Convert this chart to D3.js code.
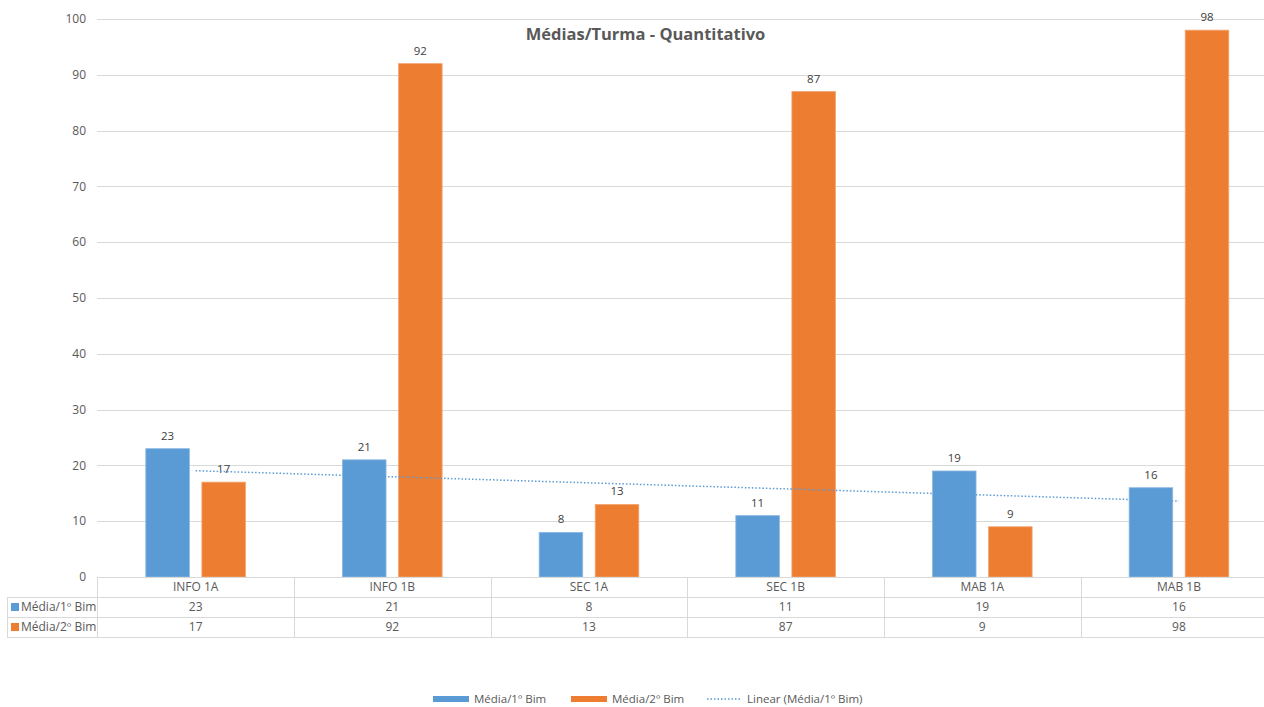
<!DOCTYPE html>
<html><head><meta charset="utf-8">
<script src="https://cdn.jsdelivr.net/npm/d3@7"></script>
<style>
html,body{margin:0;padding:0;background:#fff;}
svg{display:block;font-family:Carlito,"Open Sans","Liberation Sans",sans-serif;}
</style></head>
<body><svg id="c" width="1264" height="707"></svg>
<script>
const categories = ["INFO 1A","INFO 1B","SEC 1A","SEC 1B","MAB 1A","MAB 1B"];
const seriesNames = ["Média/1º Bim","Média/2º Bim"];
const bim1 = [23,21,8,11,19,16];
const bim2 = [17,92,13,87,9,98];
const yTicks = [0,10,20,30,40,50,60,70,80,90,100];
const colors = ["#5B9BD5","#ED7D31"];
const title = "Médias/Turma - Quantitativo";
const trendLabel = "Linear (Média/1º Bim)";

const series = [bim1, bim2];
const svg = d3.select("#c");
const font = "'Open Sans','Liberation Sans',sans-serif";
const txt = "#595959";

const x = d3.scaleBand().domain(categories).range([97.3, 1277.3]).padding(0);
const x1 = d3.scaleBand().domain(seriesNames).range([0, x.bandwidth()]).paddingInner(0.223).paddingOuter(0.865);
const y = d3.scaleLinear().domain([0,100]).range([577, 19]);

// gridlines
svg.append("g").selectAll("line").data(yTicks).join("line")
  .attr("x1", 97).attr("x2", 1264)
  .attr("y1", d=>Math.round(y(d))+0.5).attr("y2", d=>Math.round(y(d))+0.5)
  .attr("stroke", "#D9D9D9").attr("stroke-width", 1);

// y tick labels
svg.append("g").selectAll("text").data(yTicks).join("text")
  .attr("x", 86).attr("y", d=>y(d)).attr("dy","0.35em")
  .attr("text-anchor","end").attr("font-size", 12).attr("fill", txt)
  .style("font-family", font).text(d=>d);

// bars
seriesNames.forEach((s,si)=>{
  const g = svg.append("g");
  g.selectAll("rect").data(series[si]).join("rect")
    .attr("x", (d,i)=>x(categories[i]) + x1(s))
    .attr("width", x1.bandwidth())
    .attr("y", d=>y(d)).attr("height", d=>y(0)-y(d))
    .attr("fill", colors[si]).attr("stroke", si===0?"#8DB9E2":"#F3A672").attr("stroke-width", 0.8);
  g.selectAll("text").data(series[si]).join("text")
    .attr("x", (d,i)=>x(categories[i]) + x1(s) + x1.bandwidth()/2)
    .attr("y", d=>y(d)-9).attr("text-anchor","middle")
    .attr("font-size", 11.5).attr("fill", "#404040").style("font-family", font).text(d=>d);
});

// trendline (linear regression on series 1)
const n = bim1.length;
const xs = bim1.map((d,i)=>i+1);
const mx = d3.mean(xs), my = d3.mean(bim1);
const slope = d3.sum(xs.map((xi,i)=>(xi-mx)*(bim1[i]-my))) / d3.sum(xs.map(xi=>(xi-mx)**2));
const icpt = my - slope*mx;
const cx = i => x(categories[i]) + x.bandwidth()/2;
svg.append("line")
  .attr("x1", cx(0)).attr("y1", y(icpt + slope*1))
  .attr("x2", cx(n-1)).attr("y2", y(icpt + slope*n))
  .attr("stroke", colors[0]).attr("stroke-width", 1.5).attr("stroke-dasharray","1.5,2");

// title
svg.append("text").attr("x", 645.5).attr("y", 40).attr("text-anchor","middle")
  .attr("font-size", 16.5).attr("font-weight","bold").attr("fill", txt)
  .style("font-family", font).text(title);

// data table
const tg = svg.append("g");
const lc = "#D9D9D9";
tg.append("line").attr("x1",97).attr("x2",1264).attr("y1",577.5).attr("y2",577.5).attr("stroke",lc);
[597,617,637].forEach(yy=>tg.append("line").attr("x1",7).attr("x2",1264).attr("y1",yy+0.5).attr("y2",yy+0.5).attr("stroke",lc));
tg.append("line").attr("x1",7.5).attr("x2",7.5).attr("y1",597).attr("y2",637).attr("stroke",lc);
categories.forEach(c=>{
  const xx = Math.round(x(c))+0.5;
  tg.append("line").attr("x1",xx).attr("x2",xx).attr("y1",577).attr("y2",637).attr("stroke",lc);
});
tg.selectAll("text.cat").data(categories).join("text").attr("class","cat")
  .attr("x", d=>x(d)+x.bandwidth()/2).attr("y", 587).attr("dy","0.35em")
  .attr("text-anchor","middle").attr("font-size",12).attr("fill",txt).style("font-family",font).text(d=>d);
series.forEach((vals,si)=>{
  tg.selectAll("text.v"+si).data(vals).join("text").attr("class","v"+si)
    .attr("x", (d,i)=>x(categories[i])+x.bandwidth()/2).attr("y", 607+si*20).attr("dy","0.35em")
    .attr("text-anchor","middle").attr("font-size",12).attr("fill",txt).style("font-family",font).text(d=>d);
  tg.append("rect").attr("x",11).attr("y",603+si*20).attr("width",8).attr("height",8).attr("fill",colors[si]);
  tg.append("text").attr("x",21).attr("y",607+si*20).attr("dy","0.35em")
    .attr("font-size",12).attr("fill",txt).style("font-family",font).text(seriesNames[si]);
});

// legend
const lg = svg.append("g");
const legX = [433, 571];
const legY = 699;
seriesNames.forEach((s,si)=>{
  lg.append("rect").attr("x",legX[si]).attr("y",legY-3).attr("width",36).attr("height",6).attr("fill",colors[si]);
  lg.append("text").attr("x",legX[si]+41).attr("y",legY).attr("dy","0.35em")
    .attr("font-size",11.5).attr("fill",txt).style("font-family",font).text(s);
});
lg.append("line").attr("x1",707).attr("x2",742).attr("y1",legY).attr("y2",legY)
  .attr("stroke",colors[0]).attr("stroke-width",1.5).attr("stroke-dasharray","1.5,2");
lg.append("text").attr("x",747).attr("y",legY).attr("dy","0.35em")
  .attr("font-size",11.5).attr("fill",txt).style("font-family",font).text(trendLabel);
</script></body></html>
